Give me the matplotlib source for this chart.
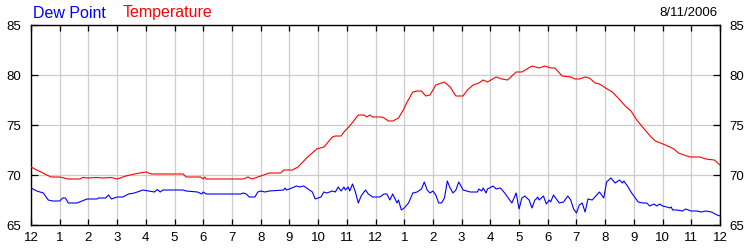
import matplotlib
matplotlib.use("Agg")
import matplotlib.pyplot as plt

plt.rcParams['font.family'] = ['Liberation Sans', 'DejaVu Sans']

hour_labels = ['12', '1', '2', '3', '4', '5', '6', '7', '8', '9', '10', '11',
               '12', '1', '2', '3', '4', '5', '6', '7', '8', '9', '10', '11', '12']
y_ticks = [65, 70, 75, 80, 85]
date_text = '8/11/2006'

temp_hours = [0.0, 0.2, 0.35, 0.55, 0.7, 1.0, 1.3, 1.7, 1.8, 2.0, 2.3, 2.5, 2.8, 3.0,
              3.3, 3.6, 4.0, 4.2, 4.8, 5.3, 5.4, 5.9, 6.0, 6.05, 6.1, 7.0, 7.4, 7.55,
              7.7, 8.0, 8.3, 8.7, 8.8, 9.1, 9.3, 9.6, 9.95, 10.2, 10.5, 10.6, 10.8,
              10.9, 11.1, 11.4, 11.6, 11.7, 11.8, 11.9, 12.2, 12.3, 12.45, 12.6,
              12.8, 12.97, 13.1, 13.3, 13.45, 13.6, 13.75, 13.9, 14.1, 14.4, 14.6,
              14.8, 15.05, 15.2, 15.4, 15.6, 15.75, 15.9, 16.2, 16.4, 16.6, 16.9,
              17.1, 17.45, 17.7, 17.9, 18.1, 18.25, 18.5, 18.8, 18.95, 19.1, 19.3,
              19.45, 19.65, 19.8, 20.07, 20.25, 20.45, 20.7, 20.9, 21.1, 21.3, 21.6,
              21.75, 22.1, 22.4, 22.55, 22.95, 23.3, 23.5, 23.8, 24.0]
temp_vals = [70.8, 70.5, 70.3, 70.0, 69.8, 69.8, 69.6, 69.6, 69.75, 69.7, 69.75, 69.7,
             69.75, 69.6, 69.9, 70.1, 70.3, 70.1, 70.1, 70.1, 69.8, 69.8, 69.6, 69.8,
             69.6, 69.6, 69.6, 69.8, 69.6, 69.9, 70.2, 70.2, 70.5, 70.5, 70.8, 71.7,
             72.6, 72.8, 73.8, 73.9, 73.9, 74.3, 74.9, 76.0, 76.0, 75.8, 76.0, 75.8,
             75.8, 75.7, 75.4, 75.4, 75.7, 76.5, 77.3, 78.3, 78.4, 78.4, 77.9, 78.0,
             79.0, 79.3, 78.8, 77.9, 77.9, 78.5, 79.0, 79.2, 79.5, 79.3, 79.8, 79.6,
             79.5, 80.3, 80.3, 80.9, 80.7, 80.9, 80.7, 80.7, 79.9, 79.8, 79.6, 79.6,
             79.8, 79.7, 79.2, 79.1, 78.6, 78.3, 77.7, 76.9, 76.4, 75.5, 74.8, 73.8,
             73.4, 73.0, 72.6, 72.2, 71.8, 71.8, 71.6, 71.5, 71.0]

dew_hours = [0.0, 0.2, 0.43, 0.6, 0.75, 1.0, 1.1, 1.2, 1.3, 1.6, 1.95, 2.3, 2.35, 2.6,
             2.7, 2.8, 3.0, 3.2, 3.4, 3.6, 3.9, 4.1, 4.3, 4.4, 4.5, 4.6, 5.3, 5.4,
             5.8, 5.95, 6.0, 6.1, 7.3, 7.4, 7.5, 7.6, 7.8, 7.9, 8.0, 8.15, 8.3, 8.8,
             8.85, 8.9, 9.0, 9.25, 9.35, 9.5, 9.6, 9.8, 9.9, 10.0, 10.1, 10.2, 10.3,
             10.5, 10.6, 10.7, 10.8, 10.9, 10.95, 11.05, 11.1, 11.2, 11.3, 11.4,
             11.5, 11.65, 11.75, 11.9, 12.15, 12.3, 12.4, 12.5, 12.6, 12.75, 12.8,
             12.9, 13.0, 13.15, 13.3, 13.45, 13.6, 13.7, 13.8, 13.9, 14.0, 14.1,
             14.2, 14.3, 14.4, 14.45, 14.5, 14.6, 14.7, 14.8, 14.9, 15.05, 15.3,
             15.55, 15.6, 15.7, 15.75, 15.85, 15.9, 16.1, 16.2, 16.35, 16.5, 16.75,
             16.9, 17.0, 17.1, 17.2, 17.35, 17.45, 17.55, 17.6, 17.65, 17.7, 17.85,
             17.95, 18.05, 18.1, 18.2, 18.4, 18.55, 18.7, 18.8, 18.9, 19.0, 19.1,
             19.2, 19.3, 19.4, 19.55, 19.8, 19.95, 20.05, 20.2, 20.35, 20.5, 20.6,
             20.65, 20.8, 20.9, 21.0, 21.15, 21.3, 21.45, 21.55, 21.7, 21.8, 21.9,
             22.0, 22.15, 22.25, 22.3, 22.35, 22.5, 22.7, 22.8, 23.0, 23.2, 23.35,
             23.5, 23.7, 23.9, 24.0]
dew_vals = [68.7, 68.4, 68.2, 67.5, 67.4, 67.4, 67.7, 67.7, 67.2, 67.2, 67.6, 67.6,
            67.7, 67.7, 68.0, 67.6, 67.8, 67.8, 68.1, 68.2, 68.5, 68.4, 68.3, 68.55,
            68.3, 68.5, 68.5, 68.4, 68.3, 68.1, 68.3, 68.1, 68.1, 68.2, 68.1, 67.8,
            67.8, 68.3, 68.4, 68.3, 68.4, 68.5, 68.7, 68.5, 68.6, 68.9, 68.8, 68.9,
            68.7, 68.3, 67.6, 67.7, 67.8, 68.3, 68.2, 68.4, 68.3, 68.8, 68.4, 68.8,
            68.5, 68.8, 68.4, 69.1, 68.3, 67.2, 67.9, 68.5, 68.1, 67.8, 67.8, 68.1,
            68.1, 67.5, 68.1, 67.2, 67.5, 66.5, 66.7, 67.2, 68.2, 68.3, 68.6, 69.3,
            68.5, 68.2, 68.4, 68.0, 67.2, 67.2, 67.7, 68.5, 69.4, 68.7, 68.2, 68.5,
            69.3, 68.5, 68.3, 68.3, 68.6, 68.4, 68.7, 68.2, 68.6, 68.9, 68.6, 68.7,
            68.2, 67.2, 68.2, 66.6, 67.7, 67.9, 67.5, 66.7, 67.5, 67.6, 67.8, 67.5,
            67.9, 67.1, 67.5, 67.3, 68.0, 67.2, 67.3, 67.9, 67.5, 66.6, 66.2, 67.0,
            67.2, 66.3, 67.6, 67.5, 68.3, 67.7, 69.3, 69.7, 69.2, 69.5, 69.2, 69.4,
            68.8, 68.3, 67.9, 67.3, 67.2, 67.2, 66.9, 67.1, 66.9, 67.1, 66.9, 66.8,
            66.7, 66.8, 66.5, 66.5, 66.4, 66.6, 66.4, 66.4, 66.3, 66.4, 66.3, 66.0,
            65.9]

fig = plt.figure(figsize=(7.5, 2.5), dpi=100)
ax = fig.add_axes([31 / 750, 25 / 250, 689 / 750, 200 / 250])

ax.plot(temp_hours, temp_vals, color='#ff0000', lw=0.8, zorder=3)
ax.plot(dew_hours, dew_vals, color='#0000ff', lw=0.8, zorder=3)

ax.set_xlim(0, 24)
ax.set_ylim(65, 85)
ax.set_xticks(range(25))
ax.set_xticklabels(hour_labels)
ax.set_yticks(y_ticks)
ax.set_yticklabels([str(v) for v in y_ticks])

ax.grid(True, color='#cccccc', lw=0.9, zorder=1)
ax.set_axisbelow(True)

ax.tick_params(axis='x', direction='in', length=4, width=0.9, top=True, bottom=True,
               labelsize=9.5, pad=5, colors='black')
ax.tick_params(axis='y', direction='in', length=5, width=0.9, left=True, right=True,
               labelleft=True, labelright=True, labelsize=9.5, pad=7, colors='black')
for s in ax.spines.values():
    s.set_color('black')
    s.set_linewidth(1.0)

fig.text(33 / 750, 1 - 13 / 250, 'Dew Point', color='#0000ff', fontsize=11.5,
         ha='left', va='center')
fig.text(123 / 750, 1 - 13 / 250, 'Temperature', color='#ff0000', fontsize=11.5,
         ha='left', va='center')
fig.text(718 / 750, 1 - 13 / 250, date_text, color='black', fontsize=9.5,
         ha='right', va='center')

fig.savefig('out.png', dpi=100)
